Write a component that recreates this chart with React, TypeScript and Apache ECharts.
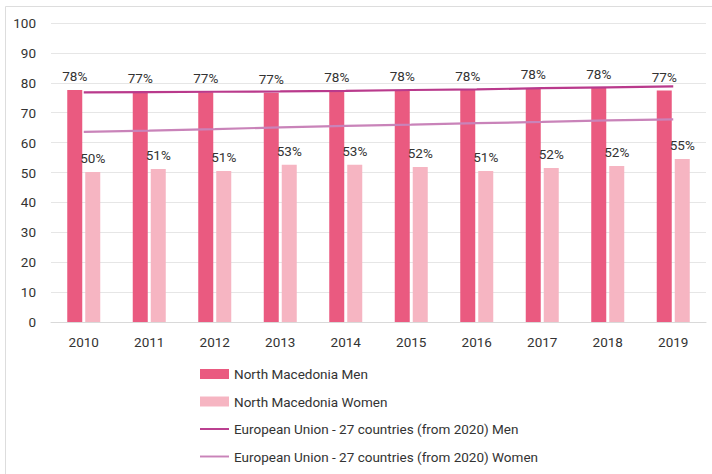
import React, { useEffect, useRef } from "react";
import * as echarts from "echarts";

const years = ["2010", "2011", "2012", "2013", "2014", "2015", "2016", "2017", "2018", "2019"];
const nmMen = [77.6, 76.8, 76.8, 76.7, 77.3, 77.6, 77.6, 78.2, 78.4, 77.4];
const nmMenLabels = ["78%", "77%", "77%", "77%", "78%", "78%", "78%", "78%", "78%", "77%"];
const nmWomen = [50.2, 51.2, 50.5, 52.6, 52.6, 51.8, 50.5, 51.5, 52.2, 54.5];
const nmWomenLabels = ["50%", "51%", "51%", "53%", "53%", "52%", "51%", "52%", "52%", "55%"];
const euMen = [76.8, 76.9, 77.0, 77.1, 77.3, 77.6, 77.8, 78.2, 78.5, 78.8];
const euWomen = [63.6, 64.0, 64.5, 65.1, 65.6, 66.0, 66.5, 66.9, 67.4, 67.8];
const yTicks = { min: 0, max: 100, interval: 10 };

const FONT = "Roboto, 'Noto Sans', sans-serif";
const FS = 13.5;
const LINE_ICON = "path://M0,0L30,0L30,2L0,2Z";

export default function App() {
  const ref = useRef<HTMLDivElement>(null);
  useEffect(() => {
    if (!ref.current) return;
    const chart = echarts.init(ref.current, undefined, { renderer: "svg" });
    const labelStyle = (labels: string[]) => ({
      show: true,
      position: "top" as const,
      distance: 7,
      fontSize: FS,
      fontFamily: FONT,
      color: "#333",
      formatter: (p: any) => labels[p.dataIndex],
    });
    chart.setOption({
      animation: false,
      textStyle: { fontFamily: FONT },
      graphic: [
        {
          type: "rect",
          shape: { x: 5.5, y: 6.5, width: 740, height: 500 },
          style: { fill: "none", stroke: "#dddddd", lineWidth: 1 },
          silent: true,
          z: -10,
        },
      ],
      grid: { left: 51, right: 6, top: 23, bottom: 152, containLabel: false },
      legend: {
        orient: "vertical",
        left: 195,
        top: 362,
        itemWidth: 29,
        itemHeight: 10,
        itemGap: 13.5,
        textStyle: { fontSize: FS, color: "#333", fontFamily: FONT },
        data: [
          { name: "North Macedonia Men", icon: "rect" },
          { name: "North Macedonia Women", icon: "rect" },
          { name: "European Union - 27 countries (from 2020) Men", icon: LINE_ICON },
          { name: "European Union - 27 countries (from 2020) Women", icon: LINE_ICON },
        ],
      },
      xAxis: {
        type: "category",
        data: years,
        axisLine: { lineStyle: { color: "#d9d9d9" } },
        axisTick: { show: false },
        axisLabel: { fontSize: FS, color: "#333", margin: 13, fontFamily: FONT },
      },
      yAxis: {
        type: "value",
        min: yTicks.min,
        max: yTicks.max,
        interval: yTicks.interval,
        axisLine: { show: false },
        axisTick: { show: false },
        splitLine: { lineStyle: { color: "#e6e6e6", width: 1 } },
        axisLabel: { fontSize: FS, color: "#333", margin: 15, fontFamily: FONT },
      },
      series: [
        {
          name: "North Macedonia Men",
          type: "bar",
          data: nmMen,
          barWidth: 15,
          barGap: "20%",
          itemStyle: { color: "#ea5a80" },
          label: labelStyle(nmMenLabels),
        },
        {
          name: "North Macedonia Women",
          type: "bar",
          data: nmWomen,
          barWidth: 15,
          barGap: "20%",
          itemStyle: { color: "#f6b5c2" },
          label: labelStyle(nmWomenLabels),
        },
        {
          name: "European Union - 27 countries (from 2020) Men",
          type: "line",
          data: euMen,
          symbol: "none",
          lineStyle: { color: "#b93a8c", width: 2.2 },
          itemStyle: { color: "#b93a8c" },
          z: 5,
        },
        {
          name: "European Union - 27 countries (from 2020) Women",
          type: "line",
          data: euWomen,
          symbol: "none",
          lineStyle: { color: "#c983b9", width: 2.2 },
          itemStyle: { color: "#c983b9" },
          z: 5,
        },
      ],
    });
    return () => chart.dispose();
  }, []);
  return <div ref={ref} style={{ width: 712, height: 474, position: "absolute", left: 0, top: 0 }} />;
}
